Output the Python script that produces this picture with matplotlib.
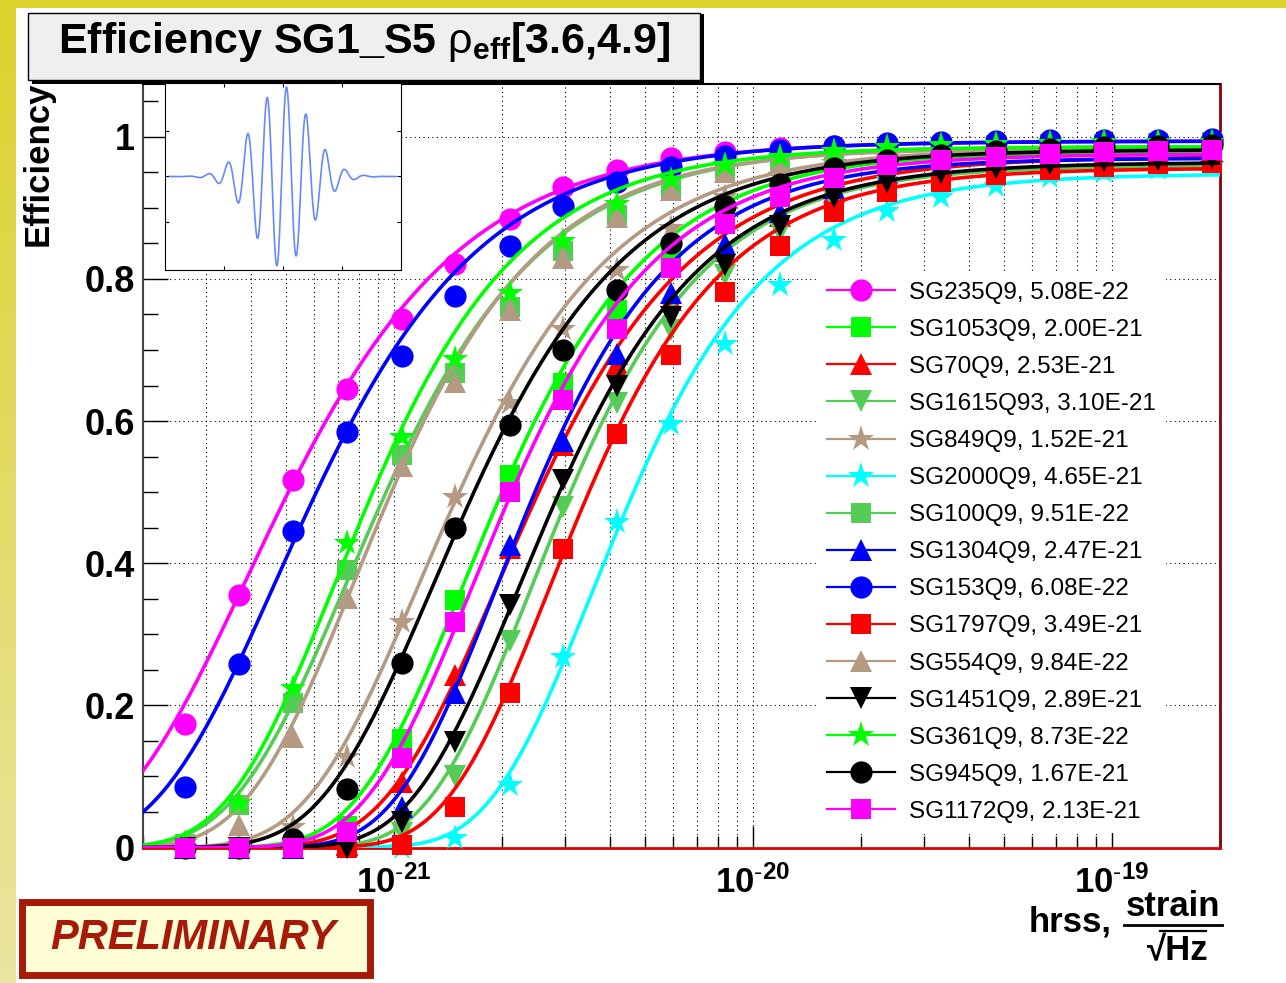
import numpy as np
import matplotlib.pyplot as plt
import matplotlib.ticker as mticker
from matplotlib.patches import Rectangle
from matplotlib.lines import Line2D

plt.rcParams['font.family'] = ['Liberation Sans', 'DejaVu Sans']
plt.rcParams['mathtext.fontset'] = 'custom'
plt.rcParams['mathtext.rm'] = 'Liberation Sans'
plt.rcParams['mathtext.bf'] = 'Liberation Sans:bold'
plt.rcParams['mathtext.it'] = 'Liberation Sans:italic'

# injected hrss values (strain/sqrt(Hz)), same for every waveform
hrss = [2.62e-22, 3.71e-22, 5.24e-22, 7.41e-22, 1.05e-21, 1.48e-21, 2.10e-21,
        2.96e-21, 4.19e-21, 5.93e-21, 8.38e-21, 1.19e-20, 1.68e-20, 2.37e-20,
        3.35e-20, 4.74e-20, 6.71e-20, 9.49e-20, 1.34e-19, 1.90e-19]

names = ['SG235Q9', 'SG1053Q9', 'SG70Q9', 'SG1615Q93', 'SG849Q9', 'SG2000Q9',
         'SG100Q9', 'SG1304Q9', 'SG153Q9', 'SG1797Q9', 'SG554Q9', 'SG1451Q9',
         'SG361Q9', 'SG945Q9', 'SG1172Q9']
hrss50 = [5.08e-22, 2.00e-21, 2.53e-21, 3.10e-21, 1.52e-21, 4.65e-21,
          9.51e-22, 2.47e-21, 6.08e-22, 3.49e-21, 9.84e-22, 2.89e-21,
          8.73e-22, 1.67e-21, 2.13e-21]

eff_sg235 = [0.174, 0.355, 0.517, 0.645, 0.743, 0.821, 0.885, 0.929, 0.953, 0.970,
             0.978, 0.984, 0.987, 0.989, 0.990, 0.991, 0.992, 0.992, 0.993, 0.993]
eff_sg1053 = [0.0, 0.0, 0.003, 0.030, 0.152, 0.348, 0.524, 0.653, 0.756, 0.830,
              0.887, 0.923, 0.950, 0.962, 0.970, 0.976, 0.980, 0.983, 0.985, 0.986]
eff_sg70 = [0.0, 0.0, 0.0, 0.005, 0.092, 0.243, 0.421, 0.566, 0.680, 0.770,
            0.840, 0.888, 0.922, 0.944, 0.957, 0.966, 0.971, 0.975, 0.977, 0.978]
eff_sg1615 = [0.0, 0.0, 0.0, 0.0, 0.020, 0.101, 0.290, 0.479, 0.625, 0.728,
              0.806, 0.866, 0.908, 0.930, 0.945, 0.955, 0.960, 0.965, 0.968, 0.970]
eff_sg849 = [0.0, 0.003, 0.029, 0.128, 0.317, 0.493, 0.625, 0.730, 0.812, 0.871,
             0.916, 0.945, 0.963, 0.972, 0.978, 0.982, 0.985, 0.987, 0.988, 0.989]
eff_sg2000 = [0.0, 0.0, 0.0, 0.0, 0.0, 0.013, 0.088, 0.268, 0.458, 0.596,
              0.709, 0.791, 0.855, 0.895, 0.916, 0.931, 0.943, 0.950, 0.955, 0.960]
eff_sg100 = [0.005, 0.060, 0.203, 0.390, 0.552, 0.668, 0.760, 0.840, 0.890, 0.927,
             0.953, 0.967, 0.977, 0.982, 0.986, 0.988, 0.990, 0.990, 0.991, 0.992]
eff_sg1304 = [0.0, 0.0, 0.0, 0.003, 0.057, 0.217, 0.425, 0.572, 0.695, 0.780,
              0.849, 0.894, 0.928, 0.949, 0.960, 0.968, 0.973, 0.976, 0.978, 0.980]
eff_sg153 = [0.085, 0.258, 0.445, 0.584, 0.691, 0.776, 0.847, 0.902, 0.937, 0.958,
             0.973, 0.981, 0.987, 0.991, 0.993, 0.994, 0.995, 0.996, 0.996, 0.997]
eff_sg1797 = [0.0, 0.0, 0.0, 0.0, 0.004, 0.057, 0.217, 0.420, 0.582, 0.693,
              0.781, 0.846, 0.894, 0.922, 0.936, 0.946, 0.953, 0.958, 0.962, 0.963]
eff_sg554 = [0.002, 0.032, 0.156, 0.351, 0.537, 0.655, 0.757, 0.830, 0.887, 0.925,
             0.950, 0.965, 0.975, 0.980, 0.985, 0.987, 0.989, 0.990, 0.990, 0.991]
eff_sg1451 = [0.0, 0.0, 0.0, 0.0, 0.036, 0.148, 0.341, 0.517, 0.649, 0.746,
              0.820, 0.874, 0.915, 0.937, 0.949, 0.956, 0.962, 0.966, 0.968, 0.970]
eff_sg361 = [0.006, 0.062, 0.225, 0.428, 0.578, 0.688, 0.780, 0.853, 0.905, 0.939,
             0.960, 0.972, 0.980, 0.985, 0.988, 0.990, 0.991, 0.992, 0.993, 0.993]
eff_sg945 = [0.0, 0.0, 0.012, 0.083, 0.259, 0.450, 0.594, 0.700, 0.784, 0.850,
             0.902, 0.934, 0.956, 0.967, 0.975, 0.980, 0.983, 0.985, 0.987, 0.988]
eff_sg1172 = [0.0, 0.0, 0.0, 0.022, 0.126, 0.317, 0.500, 0.630, 0.730, 0.815,
              0.877, 0.915, 0.942, 0.960, 0.967, 0.971, 0.976, 0.978, 0.980, 0.981]

efficiencies = [eff_sg235, eff_sg1053, eff_sg70, eff_sg1615, eff_sg849, eff_sg2000,
                eff_sg100, eff_sg1304, eff_sg153, eff_sg1797, eff_sg554, eff_sg1451,
                eff_sg361, eff_sg945, eff_sg1172]

# marker / colour per waveform (ROOT-like palette)
LTGREEN = '#55cc55'
TAN = '#b49a82'
styles = [('o', '#ff00ff'), ('s', '#00ff00'), ('^', '#ff0000'), ('v', LTGREEN),
          ('*', TAN), ('*', '#00ffff'), ('s', LTGREEN), ('^', '#0000ff'),
          ('o', '#0000ff'), ('s', '#ff0000'), ('^', TAN), ('v', '#000000'),
          ('*', '#00ff00'), ('o', '#000000'), ('s', '#ff00ff')]
msize = {'o': 16, 's': 15, '^': 16, 'v': 16, '*': 20}


def richards(h, h50, emax, a, nu):
    # asymmetric sigmoid in log(hrss), pinned so that eff(h50) = 0.5
    c = h50 * ((2 * emax) ** (1.0 / nu) - 1) ** (1.0 / a)
    return emax / (1 + (h / c) ** (-a)) ** nu


def fit_sigmoid(h, eff, h50):
    h = np.asarray(h)[None, None, None, :]
    eff = np.asarray(eff)[None, None, None, :]
    # mild binomial-like weighting towards the tails
    w = 1.0 / (eff * (1 - eff) + 0.05)
    slopes = np.linspace(1.0, 10.0, 121)[:, None, None, None]
    plateaus = np.linspace(0.93, 1.0, 36)[None, :, None, None]
    shapes = np.logspace(-0.5, 1.3, 37)[None, None, :, None]
    err = (w * (richards(h, h50, plateaus, slopes, shapes) - eff) ** 2).sum(axis=3)
    i, j, k = np.unravel_index(err.argmin(), err.shape)
    return plateaus.ravel()[j], slopes.ravel()[i], shapes.ravel()[k]


W, H = 1286, 983
fig = plt.figure(figsize=(W / 100, H / 100), dpi=100)
fig.patch.set_facecolor('white')

# yellow slide border (left gradient strip + top band)
left = fig.add_axes([0, 0, 16 / W, 1])
grad = np.linspace(0, 1, 256)[:, None]
top_col = np.array([220, 210, 44]) / 255
bot_col = np.array([234, 229, 160]) / 255
left.imshow(top_col + grad[..., None] * (bot_col - top_col), aspect='auto')
left.axis('off')
fig.add_artist(Rectangle((0, 1 - 8 / H), 1, 8 / H, transform=fig.transFigure,
                         facecolor='#dcd42c', edgecolor='none'))

x0, x1, y0, y1 = 143, 1220, 83.5, 847.5
ax = fig.add_axes([x0 / W, 1 - y1 / H, (x1 - x0) / W, (y1 - y0) / H])
ax.set_xscale('log')
ax.set_xlim(2e-22, 2e-19)
ax.set_ylim(0, 1.075)

hh = np.logspace(np.log10(2e-22), np.log10(2e-19), 500)
for k, (name, h50, eff, (mk, col)) in enumerate(zip(names, hrss50, efficiencies, styles)):
    emax, slope, shape = fit_sigmoid(hrss, eff, h50)
    ax.plot(hh, richards(hh, h50, emax, slope, shape), color=col, lw=2.6, zorder=3 + 2 * k)
    ax.plot(hrss, eff, ls='none', marker=mk, ms=msize[mk], color=col,
            markeredgewidth=0, clip_on=False, zorder=4 + 2 * k)

# axes styling
ax.xaxis.set_major_locator(mticker.FixedLocator([1e-21, 1e-20, 1e-19]))
ax.xaxis.set_major_formatter(mticker.FixedFormatter(
    [r'$\mathbf{10}^{\text{-}\mathbf{%d}}$' % e for e in (21, 20, 19)]))
ax.xaxis.set_minor_locator(mticker.LogLocator(base=10, subs=np.arange(2, 10), numticks=20))
ax.xaxis.set_minor_formatter(mticker.NullFormatter())
ax.yaxis.set_major_locator(mticker.MultipleLocator(0.2))
ax.yaxis.set_minor_locator(mticker.MultipleLocator(0.05))
ax.yaxis.set_major_formatter(mticker.FuncFormatter(lambda v, p: '%g' % round(v, 2)))
ax.tick_params(axis='x', which='major', direction='in', length=16, width=1,
               labelsize=25, pad=13)
ax.tick_params(axis='x', which='minor', direction='in', length=9, width=1)
ax.tick_params(axis='y', which='major', direction='in', length=18, width=1,
               labelsize=26, pad=6)
ax.tick_params(axis='y', which='minor', direction='in', length=11, width=1)
for lab in ax.get_yticklabels():
    lab.set_fontweight('bold')
ax.grid(True, which='both', axis='x', color='black', lw=0.8, ls=(0, (1, 3)))
ax.grid(True, which='major', axis='y', color='black', lw=0.8, ls=(0, (1, 3)))
ax.set_axisbelow(True)
ax.spines['left'].set_color('#444444')
ax.spines['left'].set_linewidth(1.5)
ax.spines['top'].set_color('black')
ax.spines['top'].set_linewidth(1.5)
ax.spines['bottom'].set_color('#e00000')
ax.spines['bottom'].set_linewidth(2)
ax.spines['right'].set_color('#8b0000')
ax.spines['right'].set_linewidth(2)

handles = [Line2D([], [], color=col, lw=1.6, marker=mk, ms=msize[mk], markeredgewidth=0)
           for mk, col in styles]
labels = ['%s, %.2E' % (n, v) for n, v in zip(names, hrss50)]
leg = fig.legend(handles, labels, loc='upper left',
                 bbox_to_anchor=(817 / W, 1 - 272 / H), fontsize=17.5,
                 frameon=True, facecolor='white', edgecolor='none', framealpha=1,
                 borderaxespad=0, borderpad=0.4, handlelength=2.8,
                 handletextpad=0.6, labelspacing=0.62, fancybox=False)
leg.set_zorder(50)

# sine-Gaussian waveform inset
ins = fig.add_axes([165 / W, 1 - 270 / H, (401 - 165) / W, (270 - 83) / H], zorder=20)
t = np.linspace(0.02, 0.98, 800)
ins.plot(t, np.exp(-((t - 0.495) / 0.167) ** 2) * np.cos(2 * np.pi * 12.1 * (t - 0.515)),
         color='#6688ff', lw=1.2)
ins.set_xlim(0, 1)
ins.set_ylim(-1.03, 1.03)
ins.set_xticks([0.25, 0.5, 0.75])
ins.set_yticks([-0.5, 0, 0.5])
ins.tick_params(direction='in', length=3, width=0.8, top=True, right=True,
                labelbottom=False, labelleft=False)
for sp in ins.spines.values():
    sp.set_linewidth(0.8)

# title pave with shadow
fig.add_artist(Rectangle((32 / W, 1 - 84 / H), 672 / W, 70 / H, transform=fig.transFigure,
                         facecolor='black', edgecolor='none', zorder=30))
fig.add_artist(Rectangle((28 / W, 1 - 80 / H), 672 / W, 67 / H, transform=fig.transFigure,
                         facecolor='#efefef', edgecolor='black', lw=1, zorder=31))
fig.text(364 / W, 1 - 42 / H, r'Efficiency SG1_S5 $\mathrm{\rho}_{\mathbf{eff}}$[3.6,4.9]',
         ha='center', va='center', fontsize=31, fontweight='bold', zorder=32)

fig.text(38 / W, 1 - 82 / H, 'Efficiency', rotation=90, ha='center', va='top',
         fontsize=25, fontweight='bold')

# x axis title: hrss, strain / sqrt(Hz)
fig.text(1112 / W, 1 - 922 / H, 'hrss,', ha='right', va='center',
         fontsize=25, fontweight='bold')
fig.text(1173 / W, 1 - 906 / H, 'strain', ha='center', va='center',
         fontsize=25, fontweight='bold')
fig.add_artist(Line2D([1124 / W, 1222 / W], [1 - 925 / H, 1 - 925 / H],
                      transform=fig.transFigure, color='black', lw=2))
fig.text(1178 / W, 1 - 951 / H, '\u221aHz', ha='center', va='center',
         fontsize=25, fontweight='bold')
fig.add_artist(Line2D([1160 / W, 1206 / W], [1 - 931 / H, 1 - 931 / H],
                      transform=fig.transFigure, color='black', lw=1.6))

# PRELIMINARY stamp
fig.add_artist(Rectangle((21.5 / W, 1 - 974.5 / H), 348 / W, 73 / H,
                         transform=fig.transFigure, facecolor='#fffdd5',
                         edgecolor='#a81a08', lw=5))
fig.text(193 / W, 1 - 938 / H, 'PRELIMINARY', ha='center', va='center',
         fontsize=30, fontweight='bold', fontstyle='italic', color='#a81a08')

fig.savefig('out.png', dpi=100)
